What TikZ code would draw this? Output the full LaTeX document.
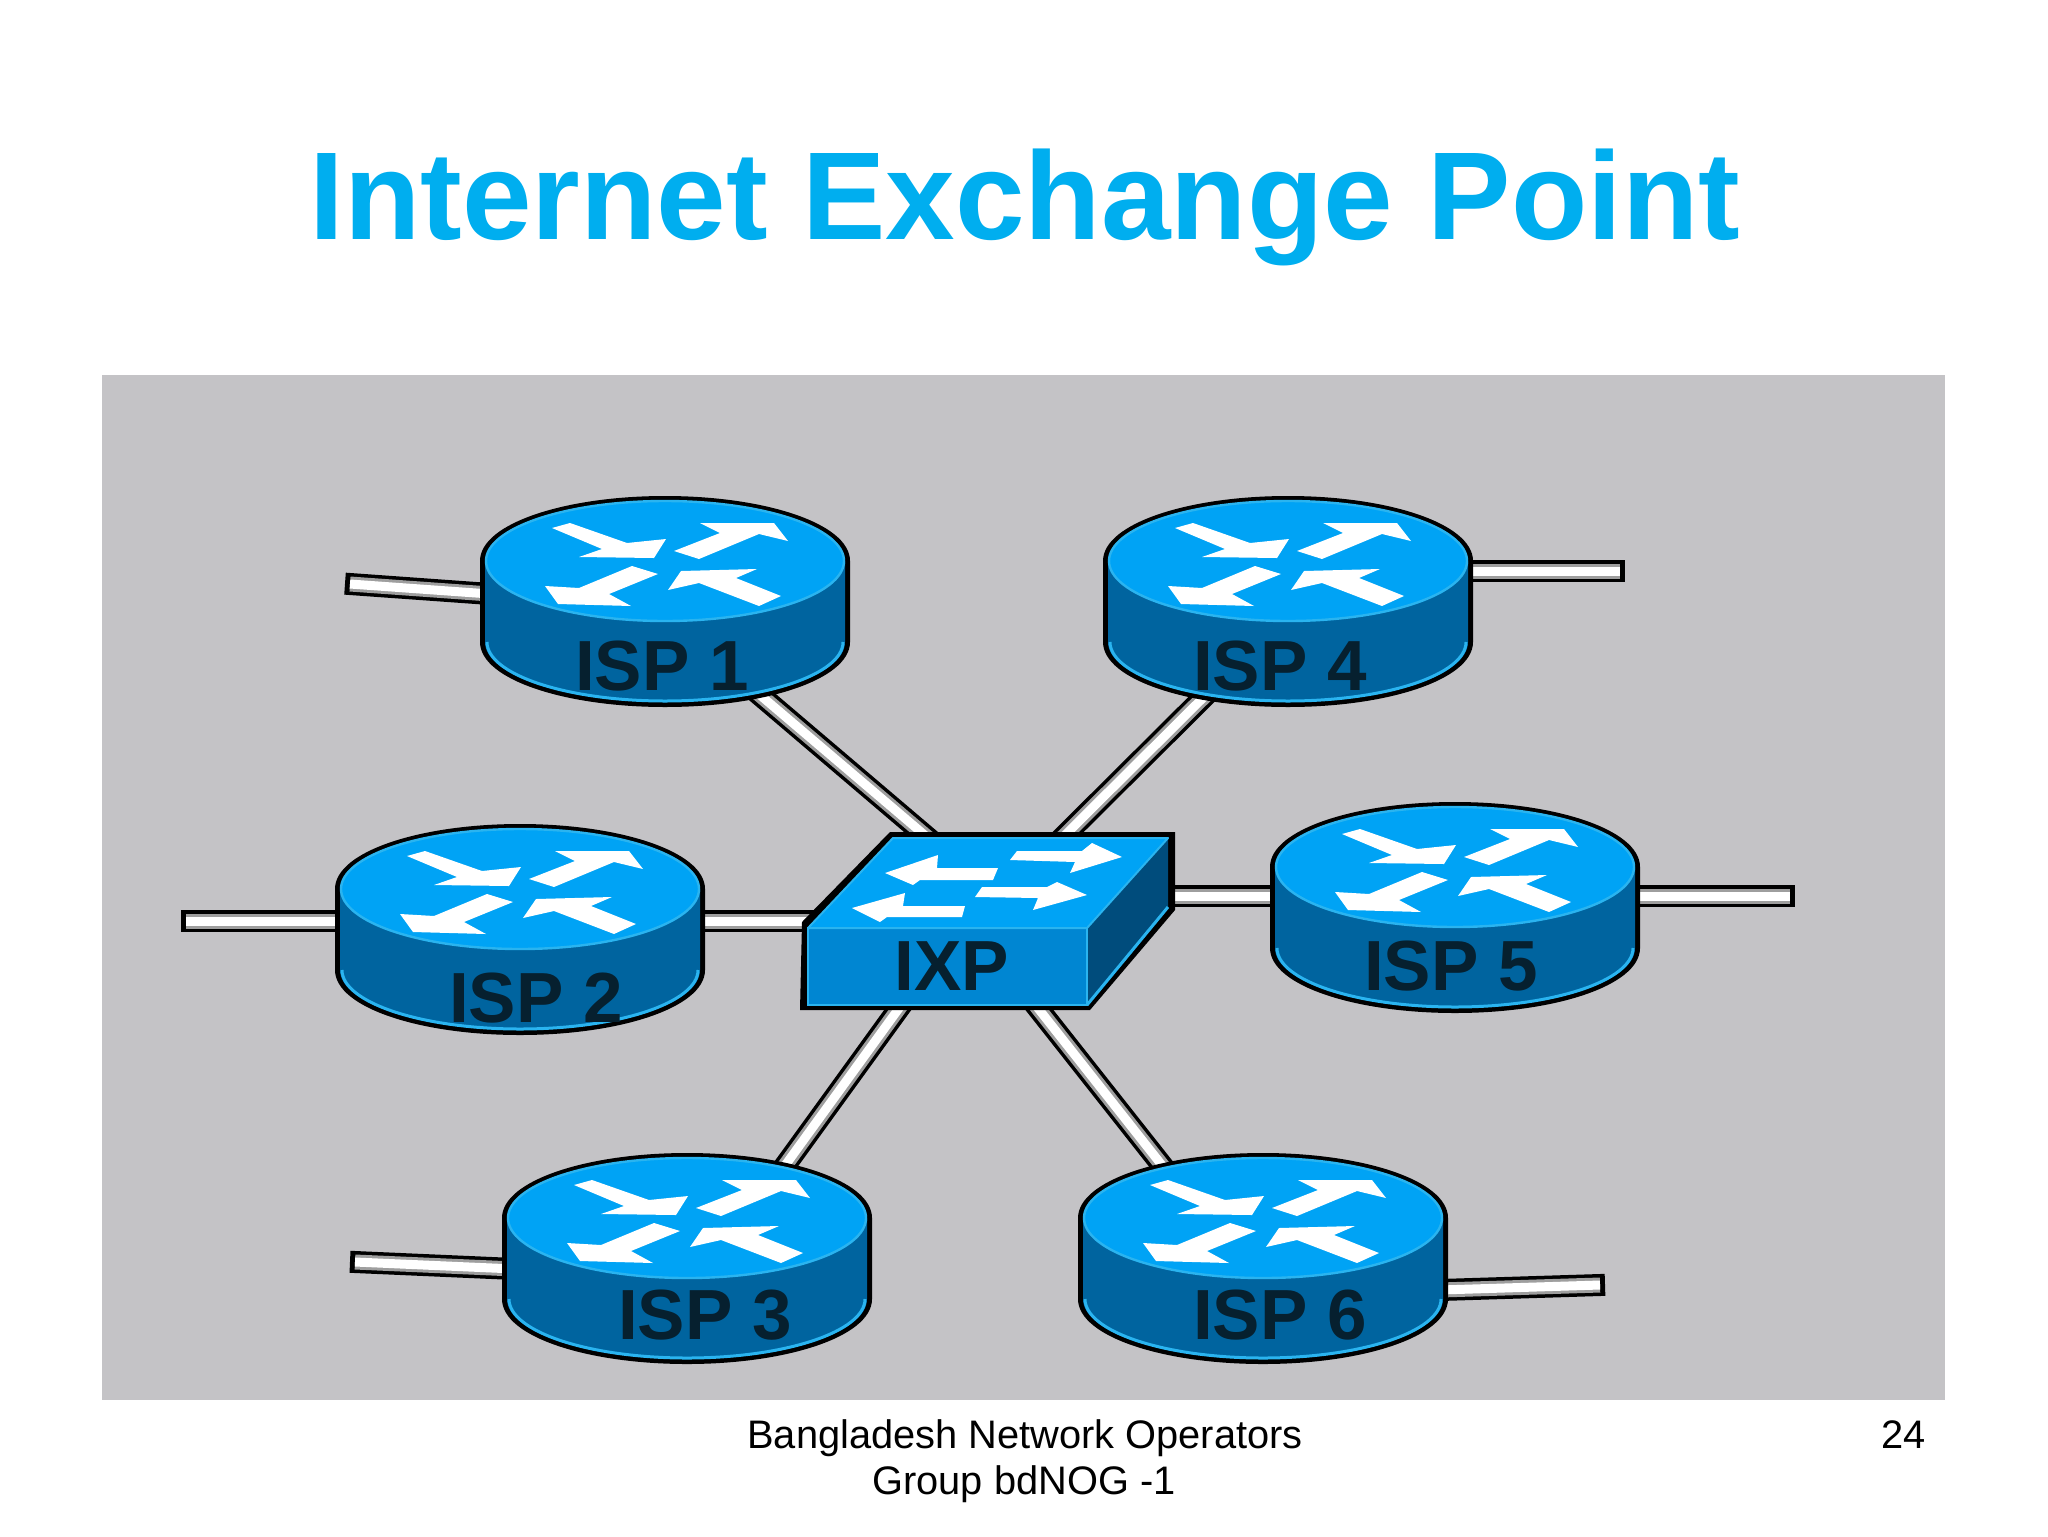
\documentclass[tikz,border=0pt]{standalone}
\usepackage{fontspec}
\setmainfont{Liberation Sans}
\pgfdeclarelayer{back}
\pgfsetlayers{back,main}
\definecolor{titleblue}{HTML}{00AEEF}
\definecolor{panelgrey}{HTML}{C4C3C6}
\definecolor{topblue}{HTML}{00A3F5}
\definecolor{sideblue}{HTML}{00649F}
\definecolor{rimblue}{HTML}{2AB4F0}
\definecolor{frontblue}{HTML}{0086D2}
\definecolor{darkside}{HTML}{004C7C}
\definecolor{labeldark}{HTML}{06202F}
\tikzset{
  x=0.5pt,y=-0.5pt,
  linkline/.style={
    preaction={draw=black,line width=11pt,line cap=butt,shorten >=-2.5pt},
    preaction={draw=black!38,line width=7.5pt},
    draw=white,line width=4.5pt},
  devlabel/.style={font=\fontsize{35.5}{35}\selectfont\bfseries,text=labeldark,inner sep=0pt},
  foot/.style={font=\fontsize{19.9}{22}\selectfont,text=black,inner sep=0pt},
  glyph/.style={fill=white},
}
\newcommand{\rtrshape}[2]{%
  \begin{scope}[shift={(#1,#2)}]
    \draw[black,line width=3pt,fill=black,line join=round]
      (-182,0) -- (-182,81) arc[start angle=180,end angle=360,x radius=91pt,y radius=31pt]
      -- (182,0) arc[start angle=0,end angle=180,x radius=91pt,y radius=31pt] -- cycle;
    \fill[sideblue]
      (-180,0) -- (-180,81) arc[start angle=180,end angle=360,x radius=90pt,y radius=30pt]
      -- (180,0) arc[start angle=0,end angle=180,x radius=90pt,y radius=30pt] -- cycle;
    \draw[rimblue,line width=1.5pt]
      (-178,81) arc[start angle=180,end angle=360,x radius=89pt,y radius=29.5pt];
    \fill[topblue,draw=rimblue,line width=1.2pt] (0,0) ellipse[x radius=89.5pt,y radius=30pt];
    \fill[glyph] (-113,-33)--(-95,-38)--(-38,-18)--(1,-22)--(-11,-3)--(-86,-4)--(-63,-12)--cycle;
    \fill[glyph] (9,-10)--(55,-28)--(35,-38)--(109,-38)--(123,-20)--(94,-27)--(34,-2)--cycle;
    \fill[glyph] (-7,13)--(-33,5)--(-86,27)--(-120,25)--(-107,43)--(-34,45)--(-56,33)--cycle;
    \fill[glyph] (3,29)--(16,10)--(92,8)--(71,17)--(116,35)--(94,45)--(34,22)--cycle;
  \end{scope}}
\begin{document}
\begin{tikzpicture}
\useasboundingbox (0,0) rectangle (2048,1536);

% routers
\rtrshape{665}{561}
\node[devlabel] (isp1) at (662,666) {ISP 1};
\rtrshape{1288}{561}
\node[devlabel] (isp4) at (1280,666) {ISP 4};
\rtrshape{520}{889}
\node[devlabel] (isp2) at (536,998) {ISP 2};
\rtrshape{1455}{867}
\node[devlabel] (isp5) at (1451,966) {ISP 5};
\rtrshape{687}{1218}
\node[devlabel] (isp3) at (705,1315) {ISP 3};
\rtrshape{1263}{1218}
\node[devlabel] (isp6) at (1280,1315) {ISP 6};

% switch
\begin{scope}[shift={(952,966)}]
  \fill[black] (-152,44)--(138,44)--(223,-56)--(223,-134)--(-62,-134)--(-150,-44)--cycle;
  \fill[darkside] (135,-38)--(216,-128)--(216,-59)--(135,39)--cycle;
  \draw[rimblue,line width=1.5pt] (135,39)--(216,-59);
  \fill[frontblue,draw=rimblue,line width=1pt] (-144,-38) rectangle (135,39);
  \fill[topblue,draw=rimblue,line width=1pt,line join=round] (-144,-38)--(-59,-128)--(216,-128)--(135,-38)--cycle;
  \fill[glyph] (-67,-93)--(-14,-111)--(-15,-98)--(46,-98)--(41,-86)--(-32,-86)--(-39,-81)--cycle;
  \fill[glyph] (58,-106)--(65,-115)--(130,-115)--(140,-123)--(170,-109)--(118,-93)--(123,-104)--cycle;
  \fill[glyph] (-100,-58)--(-47,-73)--(-49,-60)--(13,-60)--(10,-49)--(-65,-49)--(-72,-44)--cycle;
  \fill[glyph] (23,-69)--(30,-79)--(95,-79)--(105,-84)--(135,-71)--(81,-56)--(86,-68)--cycle;
\end{scope}
\node[devlabel] (ixp) at (952,966) {IXP};

% free ends
\coordinate (end1) at (350,584);
\coordinate (end4) at (1620,571);
\coordinate (end2) at (186,921);
\coordinate (end5) at (1790,896);
\coordinate (end3) at (355,1262);
\coordinate (end6) at (1600,1285);

\begin{pgfonlayer}{back}
  \fill[white] (0,0) rectangle (2048,1536);
  \fill[panelgrey] (102,375) rectangle (1945,1400);
  \path[linkline] ([shift={(78,12)}]isp1.center) -- ([shift={(-11,-117)}]ixp.center);
  \path[linkline] ([shift={(-55,10)}]isp4.center) -- ([shift={(98,-116)}]ixp.center);
  \path[linkline] ([shift={(71,-137)}]isp3.center) -- ([shift={(-42,27)}]ixp.center);
  \path[linkline] ([shift={(-108,-137)}]isp6.center) -- ([shift={(74,27)}]ixp.center);
  \path[linkline] ([shift={(154,-77)}]isp2.center) -- ([shift={(-132,-45)}]ixp.center);
  \path[linkline] ([shift={(-161,-70)}]isp5.center) -- ([shift={(208,-70)}]ixp.center);
  \path[linkline] ([shift={(-172,-72)}]isp1.center) -- (end1);
  \path[linkline] ([shift={(185,-95)}]isp4.center) -- (end4);
  \path[linkline] ([shift={(-191,-77)}]isp2.center) -- (end2);
  \path[linkline] ([shift={(179,-70)}]isp5.center) -- (end5);
  \path[linkline] ([shift={(-190,-46)}]isp3.center) -- (end3);
  \path[linkline] ([shift={(160,-25)}]isp6.center) -- (end6);
\end{pgfonlayer}

% title and footer
\node[anchor=base,inner sep=0pt,text=titleblue,font=\fontsize{62.5}{64}\selectfont\bfseries] (title) at (1025,239) {Internet Exchange Point};
\node[foot,anchor=base] (foot1) at (1025,1448) {Bangladesh Network Operators};
\node[foot,anchor=base] (foot2) at (1024,1494) {Group bdNOG -1};
\node[foot,anchor=base east] (pageno) at (1926,1448) {24};
\end{tikzpicture}
\end{document}
